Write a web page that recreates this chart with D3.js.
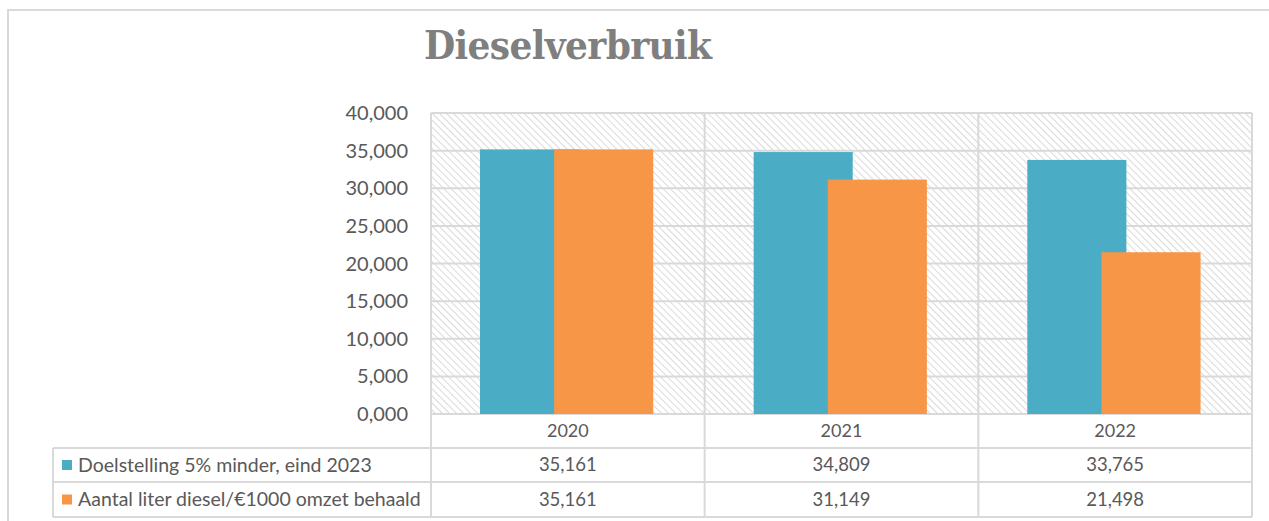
<!DOCTYPE html>
<html>
<head>
<meta charset="utf-8">
<script src="https://cdn.jsdelivr.net/npm/d3@7"></script>
<style>
  body { margin: 0; background: #fff; }
  svg { display: block; }
  text { font-family: Lato, "Open Sans", sans-serif; fill: #595959; }
</style>
</head>
<body>
<div id="chart"></div>
<script>
const years = ['2020', '2021', '2022']
const doelstelling = [35.161, 34.809, 33.765]
const behaald = [35.161, 31.149, 21.498]
const seriesNames = ['Doelstelling 5% minder, eind 2023', 'Aantal liter diesel/€1000 omzet behaald']
const seriesColors = ['#4bacc6', '#f79646']
const yTicks = [0, 5, 10, 15, 20, 25, 30, 35, 40]

const width = 1269, height = 521
const grid = '#d9d9d9'

const nl = d3.formatLocale({decimal: ',', thousands: '.', grouping: [3], currency: ['€', '']})
const fmt = nl.format('.3f')

const svg = d3.select('#chart').append('svg')
  .attr('width', width)
  .attr('height', height)

// hatch fill for the plot area, lines running top-left to bottom-right
const defs = svg.append('defs')
const pat = defs.append('pattern')
  .attr('id', 'hatch')
  .attr('patternUnits', 'userSpaceOnUse')
  .attr('width', 5)
  .attr('height', 5)
  .attr('patternTransform', 'rotate(-45)')
pat.append('rect').attr('width', 5).attr('height', 5).attr('fill', '#fff')
pat.append('line')
  .attr('x1', 0).attr('y1', 0).attr('x2', 0).attr('y2', 5)
  .attr('stroke', '#d6d6d6').attr('stroke-width', 1.8)

// outer chart frame
svg.append('rect')
  .attr('x', 8).attr('y', 10)
  .attr('width', width + 20).attr('height', height + 20)
  .attr('fill', 'none').attr('stroke', '#d9d9d9').attr('stroke-width', 2)

svg.append('text')
  .attr('x', 424).attr('y', 59)
  .attr('textLength', 288)
  .style('font-family', '"DejaVu Serif Condensed", "Liberation Serif", serif')
  .style('font-weight', 'bold')
  .style('font-size', '40px')
  .style('fill', '#7f7f7f')
  .text('Dieselverbruik')

const plot = {left: 431, right: 1252, top: 113, bottom: 414}
const rows = [414, 448, 482, 517]
const tableLeft = 53

const x = d3.scaleBand()
  .domain(years)
  .range([plot.left, plot.right])

const y = d3.scaleLinear()
  .domain([0, 40])
  .range([plot.bottom, plot.top])

svg.append('rect')
  .attr('x', plot.left).attr('y', plot.top)
  .attr('width', plot.right - plot.left).attr('height', plot.bottom - plot.top)
  .attr('fill', 'url(#hatch)')

// horizontal gridlines
svg.append('g')
  .selectAll('line')
  .data(yTicks)
  .join('line')
  .attr('x1', plot.left).attr('x2', plot.right)
  .attr('y1', d => y(d)).attr('y2', d => y(d))
  .attr('stroke', grid).attr('stroke-width', 2)

// y labels
svg.append('g')
  .selectAll('text')
  .data(yTicks)
  .join('text')
  .attr('x', 408)
  .attr('y', d => y(d))
  .attr('dy', '0.35em')
  .attr('text-anchor', 'end')
  .style('font-size', '20px')
  .text(d => fmt(d))

// bars (orange overlaps blue)
const bw = x.bandwidth()
const barW = bw * 0.362
const offsets = [bw * 0.179, bw * 0.45]
const series = [doelstelling, behaald]

series.forEach((vals, s) => {
  svg.append('g')
    .selectAll('rect')
    .data(years)
    .join('rect')
    .attr('x', d => x(d) + offsets[s])
    .attr('width', barW)
    .attr('y', (d, i) => y(vals[i]))
    .attr('height', (d, i) => y(0) - y(vals[i]))
    .attr('fill', seriesColors[s])
})

// data table
const tg = svg.append('g')
const vlines = [plot.left, ...years.map(d => x(d) + bw)]
tg.selectAll('line.v')
  .data(vlines)
  .join('line')
  .attr('class', 'v')
  .attr('x1', d => d).attr('x2', d => d)
  .attr('y1', plot.top).attr('y2', rows[3])
  .attr('stroke', grid).attr('stroke-width', 2)

tg.append('line')
  .attr('x1', tableLeft).attr('x2', tableLeft)
  .attr('y1', rows[1]).attr('y2', rows[3])
  .attr('stroke', grid).attr('stroke-width', 2)

tg.selectAll('line.h')
  .data(rows.slice(1))
  .join('line')
  .attr('class', 'h')
  .attr('x1', tableLeft).attr('x2', plot.right)
  .attr('y1', d => d).attr('y2', d => d)
  .attr('stroke', grid).attr('stroke-width', 2)

tg.append('line')
  .attr('x1', plot.left).attr('x2', plot.right)
  .attr('y1', plot.top).attr('y2', plot.top)
  .attr('stroke', grid).attr('stroke-width', 2)

tg.selectAll('text.cat')
  .data(years)
  .join('text')
  .attr('class', 'cat')
  .attr('x', d => x(d) + bw / 2)
  .attr('y', (rows[0] + rows[1]) / 2)
  .attr('dy', '0.35em')
  .attr('text-anchor', 'middle')
  .style('font-size', '18px')
  .text(d => d)

series.forEach((vals, s) => {
  const cy = (rows[s + 1] + rows[s + 2]) / 2
  tg.append('rect')
    .attr('x', 62).attr('y', cy - 5)
    .attr('width', 10).attr('height', 10)
    .attr('fill', seriesColors[s])
  tg.append('text')
    .attr('x', 78).attr('y', cy)
    .attr('dy', '0.35em')
    .style('font-size', '19.5px')
    .text(seriesNames[s])
  tg.selectAll('text.v' + s)
    .data(years)
    .join('text')
    .attr('class', 'v' + s)
    .attr('x', d => x(d) + bw / 2)
    .attr('y', cy)
    .attr('dy', '0.35em')
    .attr('text-anchor', 'middle')
    .style('font-size', '18.5px')
    .text((d, i) => fmt(vals[i]))
})
</script>
</body>
</html>
